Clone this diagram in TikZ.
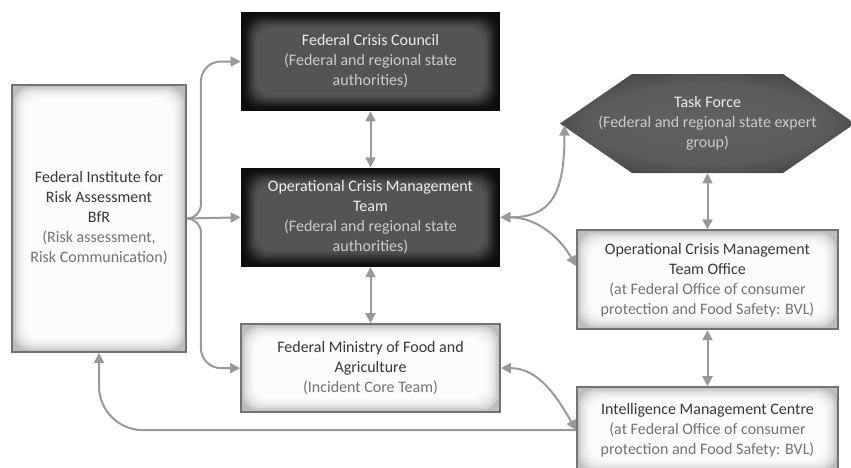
\documentclass[tikz,border=0pt]{standalone}
\usepackage{fontspec}
\setmainfont{Carlito}
\usetikzlibrary{arrows.meta,positioning,backgrounds}

\pgfdeclareradialshading{taskglow}{\pgfpoint{0bp}{0bp}}{color(0bp)=(black!62); color(20bp)=(black!64); color(32bp)=(black!76); color(41bp)=(black!95); color(75bp)=(black!97)}

\newcommand{\dsub}[1]{{\color{white!80!black}#1}}
\newcommand{\lsub}[1]{{\color{black!55}#1}}

\begin{document}
\begin{tikzpicture}[
        x=0.5pt, y=0.5pt,
        node distance=28pt and 20pt,
        every node/.style={align=center, font=\fontsize{8}{10}\selectfont, inner sep=2pt},
        dark/.style={fill=black!95, text=white!93!black,
            path picture={
                \foreach \d/\c in {1/93,2/90,3/86,4/81,5/76,6/72,7/69,8/67}
                    \fill[black!\c, rounded corners=8pt] ([shift={(\d pt,-\d pt)}]path picture bounding box.north west) rectangle ([shift={(-\d pt,\d pt)}]path picture bounding box.south east);
            }},
        light/.style={draw=black!55, line width=0.9pt, fill=black!26, text=black!78,
            path picture={
                \foreach \d/\c in {1/19,2/13,3/9,4/6,5/4,6/2,7/1}
                    \fill[black!\c, rounded corners=8pt] ([shift={(\d pt,-\d pt)}]path picture bounding box.north west) rectangle ([shift={(-\d pt,\d pt)}]path picture bounding box.south east);
            }},
        hexa/.style={text=white!93!black},
        link/.style={draw=black!40, line width=1pt, >={Triangle[length=5pt,width=5pt]}}
    ]

    \useasboundingbox (0,0) rectangle (851,-467);

    % Nodes
    \node[dark, minimum width=129.5pt, minimum height=49.5pt] (fcc) at (370.5,-61.5) {Federal Crisis Council\\
        \dsub{(Federal and regional state}\\ \dsub{authorities)}};
    \node[dark, minimum width=129.5pt, minimum height=49.5pt, below=of fcc] (ocmt) {Operational Crisis Management\\ Team\\
        \dsub{(Federal and regional state}\\ \dsub{authorities)}};
    \node[light, minimum width=129.5pt, minimum height=44pt, below=of ocmt] (fmin) {Federal Ministry of Food and\\ Agriculture\\
        \lsub{(Incident Core Team)}};

    \node[light, minimum width=87pt, minimum height=133.5pt] (bfr) at (99,-218.5) {Federal Institute for\\ Risk Assessment\\ BfR\\
        \lsub{(Risk assessment,}\\ \lsub{Risk Communication)}};

    \node[hexa, minimum height=49.5pt, inner sep=0pt] (task) at (707.5,-123.5) {Task Force\\
        \dsub{(Federal and regional state expert}\\ \dsub{group)}};
    \begin{pgfonlayer}{background}
        \shade[shading=taskglow] ([shift={(-37.75pt,24.75pt)}]task.center) -- ([shift={(37.75pt,24.75pt)}]task.center)
            -- ([xshift=73.75pt]task.center) -- ([shift={(37.75pt,-24.75pt)}]task.center)
            -- ([shift={(-37.75pt,-24.75pt)}]task.center) -- ([xshift=-73.75pt]task.center) -- cycle;
    \end{pgfonlayer}
    \node[light, minimum width=130.5pt, minimum height=49.5pt, below=of task] (office) {Operational Crisis Management\\ Team Office\\
        \lsub{(at Federal Office of consumer}\\ \lsub{protection and Food Safety: BVL)}};
    \node[light, minimum width=130.5pt, minimum height=43pt, below=of office] (imc) {Intelligence Management Centre\\
        \lsub{(at Federal Office of consumer}\\ \lsub{protection and Food Safety: BVL)}};

    \coordinate (split) at ([xshift=7pt]bfr.east);
    \coordinate (tasktip) at ([shift={(-71.5pt,-1pt)}]task.center);

    % Edges
    \draw[link,->] (bfr.east) [rounded corners=7pt] -- (split) [rounded corners=10pt] |- (fcc.west);
    \draw[link,->] (bfr.east) -- (ocmt.west);
    \draw[link,->] (bfr.east) [rounded corners=7pt] -- (split) [rounded corners=10pt] |- (fmin.west);
    \draw[link,<->] (fcc) -- (ocmt);
    \draw[link,<->] (ocmt) -- (fmin);
    \draw[link,<->] (ocmt.east) .. controls +(50,0) and +(0,-70) .. (tasktip);
    \draw[link,<->] (ocmt.east) to[out=0,in=120] (office.174);
    \draw[link,<->] (task) -- (office);
    \draw[link,<->] (office) -- (imc);
    \draw[link,<->] (fmin.east) to[out=0,in=120] (imc.west);
    \draw[link,->] (imc.west) [rounded corners=22pt] -| (bfr.south);

\end{tikzpicture}
\end{document}
